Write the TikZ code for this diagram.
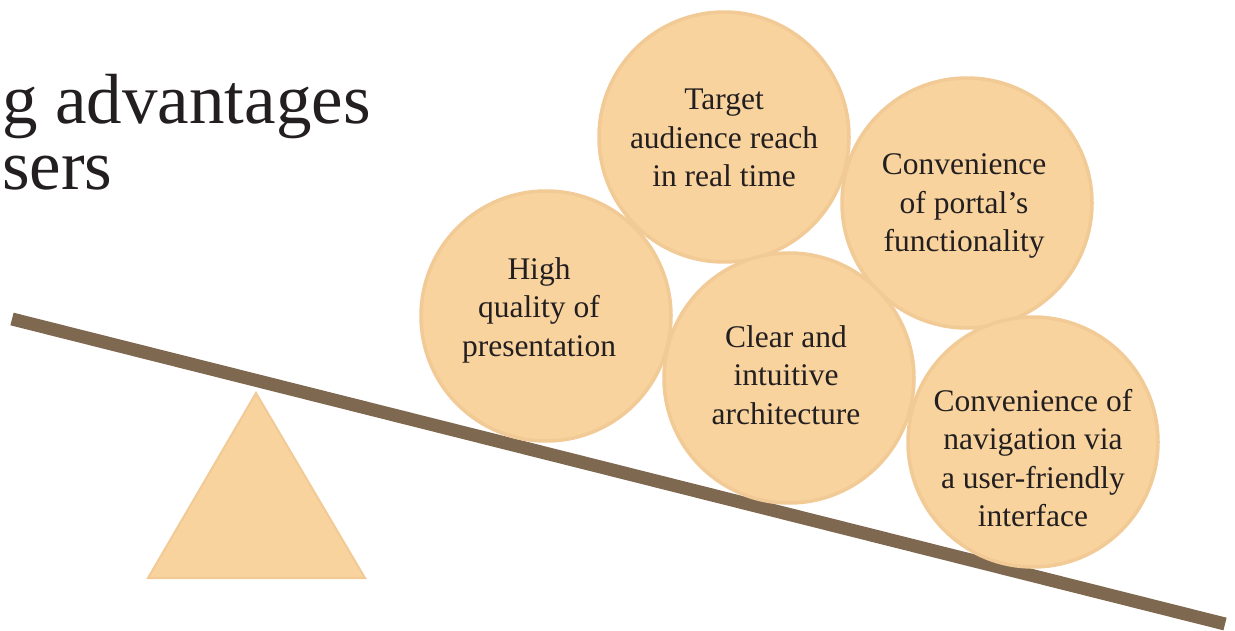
\documentclass[tikz,border=0pt]{standalone}
\usepackage{fontspec}
\setmainfont{Liberation Serif}
\definecolor{ballfill}{HTML}{F8D39E}
\definecolor{balledge}{HTML}{F1CA96}
\definecolor{beamcol}{HTML}{7F6850}
\definecolor{inkcol}{HTML}{231F20}
\begin{document}
\begin{tikzpicture}[x=1pt,y=-1pt,
  ball/.style={circle,fill=ballfill,draw=balledge,line width=3.5pt,minimum size=250pt,inner sep=0pt},
  balltext/.style={align=center,text=inkcol,font=\fontsize{31.5}{38.5}\selectfont},
  titletext/.style={text=inkcol,font=\fontsize{71}{63}\selectfont,inner sep=0pt}]
\useasboundingbox (0,0) rectangle (1235,631);
\clip (0,0) rectangle (1235,631);
% title
\node[titletext,anchor=base west] (t1) at (2,124) {g advantages};
\node[titletext,anchor=base west] (t2) at (2,190) {sers};
% fulcrum
\coordinate (apex) at (256,393);
\coordinate (bl) at (148,578);
\coordinate (br) at (365,578);
\filldraw[fill=ballfill,draw=balledge,line width=2pt,line join=miter] (apex) -- (bl) -- (br) -- cycle;
% beam
\coordinate (b1) at (12,319);
\coordinate (b2) at (1225,624);
\draw[beamcol,line width=13pt] (b1) -- (b2);
% balls
\node[ball] (c1) at (546,316) {};
\node[ball] (c2) at (724,137) {};
\node[ball] (c3) at (967,203) {};
\node[ball] (c4) at (789,378) {};
\node[ball] (c5) at (1033,442) {};
\node[balltext] (l1) at (539,310) {High\\quality of\\presentation};
\node[balltext] (l2) at (724,138) {Target\\audience reach\\in real time};
\node[balltext] (l3) at (964,206) {Convenience\\of portal’s\\functionality};
\node[balltext] (l4) at (786,375) {Clear and\\intuitive\\architecture};
\node[balltext] (l5) at (1033,458) {Convenience of\\navigation via\\a user-friendly\\interface};
\end{tikzpicture}
\end{document}
